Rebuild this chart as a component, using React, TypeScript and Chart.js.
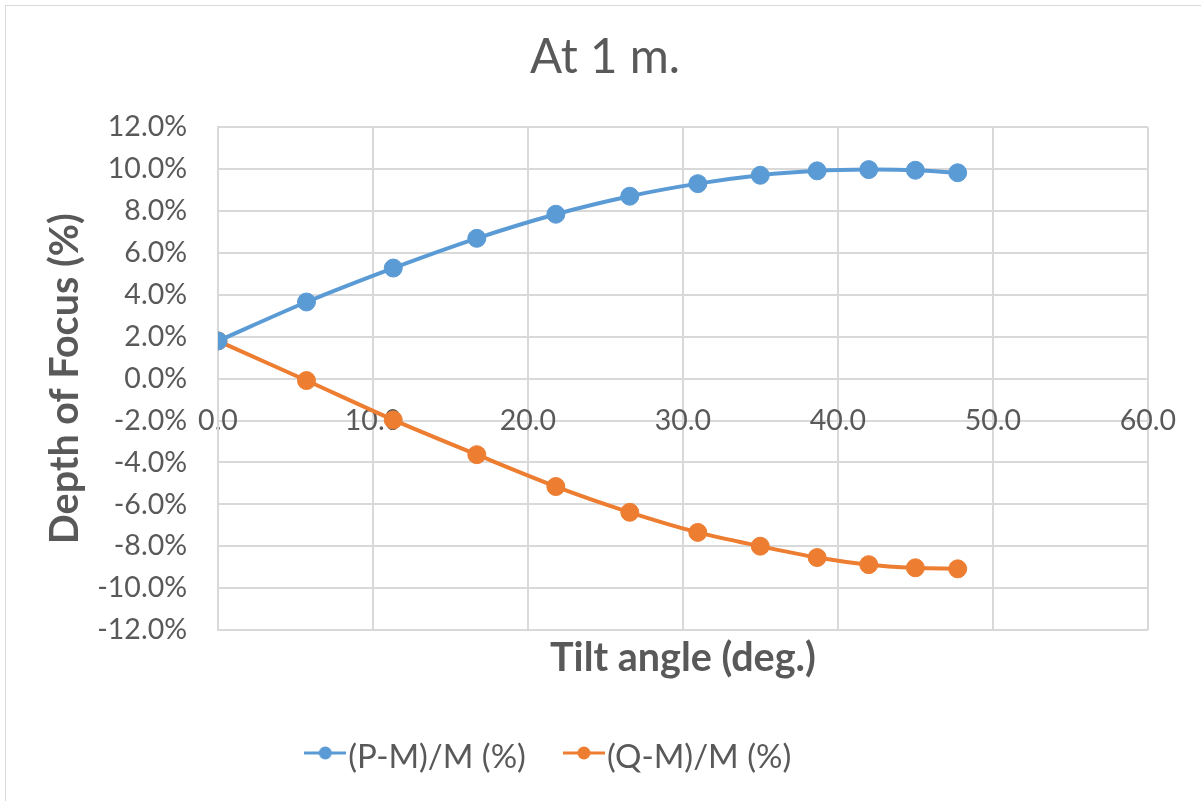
import React, { useEffect, useRef } from 'react';
import { Chart, registerables } from 'chart.js';

Chart.register(...registerables);

// ---- data ----
const chartTitle = 'At 1 m.';
const xAxisTitle = 'Tilt angle (deg.)';
const yAxisTitle = 'Depth of Focus (%)';

const tiltAngles = [0, 5.71, 11.31, 16.7, 21.8, 26.57, 30.96, 34.99, 38.66, 41.99, 45.0, 47.73];
const pmValues = [1.8, 3.66, 5.28, 6.7, 7.85, 8.71, 9.31, 9.71, 9.92, 9.98, 9.95, 9.83];
const qmValues = [1.8, -0.09, -1.97, -3.63, -5.15, -6.38, -7.34, -8.0, -8.54, -8.88, -9.03, -9.08];

const seriesNames = ['(P-M)/M (%)', '(Q-M)/M (%)'];
const seriesValues = [pmValues, qmValues];
const seriesColors = ['#5B9BD5', '#ED7D31'];

const xMin = 0;
const xMax = 60;
const xStep = 10;
const yMin = -12;
const yMax = 12;
const yStep = 2;

// ---- style ----
const TEXT = '#595959';
const GRID = '#d9d9d9';

function makeGlyph(color: string) {
  const c = document.createElement('canvas');
  c.width = 42;
  c.height = 24;
  const g = c.getContext('2d')!;
  g.strokeStyle = color;
  g.lineWidth = 3;
  g.beginPath();
  g.moveTo(0, 8);
  g.lineTo(42, 8);
  g.stroke();
  g.fillStyle = color;
  g.beginPath();
  g.arc(21, 8, 6.5, 0, Math.PI * 2);
  g.fill();
  return c;
}

// Excel-style placement: title centred on the whole frame, legend slightly left.
const boxShift = {
  id: 'boxShift',
  afterLayout(chart: any) {
    const l = chart.legend;
    if (l) {
      l.left -= 19;
      l.right -= 19;
    }
    const t = chart.titleBlock;
    if (t) {
      t.left += 31;
      t.right += 31;
    }
  },
};

export default function App() {
  const ref = useRef<HTMLCanvasElement>(null);

  useEffect(() => {
    const canvas = ref.current;
    if (!canvas) return;
    Chart.defaults.font.family = 'Lato';
    const glyphs = seriesColors.map(makeGlyph);

    const chart = new Chart(canvas, {
      type: 'line',
      data: {
        datasets: seriesNames.map((name, i) => ({
          label: name,
          data: tiltAngles.map((x, j) => ({ x, y: seriesValues[i][j] })),
          borderColor: seriesColors[i],
          backgroundColor: seriesColors[i],
          borderWidth: 4,
          pointRadius: 9,
          pointHoverRadius: 9,
          pointBorderWidth: 1,
          pointStyle: 'circle',
          tension: 0.3,
          fill: false,
        })),
      },
      options: {
        responsive: false,
        animation: false,
        devicePixelRatio: 1,
        layout: { padding: { left: 0, right: 53, top: 0, bottom: 17.5 } },
        plugins: {
          title: {
            display: true,
            text: chartTitle,
            color: TEXT,
            font: { family: 'Lato', size: 47.5, weight: 'normal' },
            padding: { top: 29, bottom: 41.3 },
          },
          legend: {
            display: true,
            position: 'bottom',
            labels: {
              usePointStyle: true,
              pointStyleWidth: 13,
              padding: 51.5,
              color: TEXT,
              font: { family: 'Lato', size: 33 },
              generateLabels: (ch: any) =>
                (Chart.defaults.plugins.legend.labels as any)
                  .generateLabels(ch)
                  .map((it: any, i: number) => ({ ...it, pointStyle: glyphs[i] })),
            },
          },
          tooltip: { enabled: false },
        },
        scales: {
          x: {
            type: 'linear',
            position: { y: 0 },
            min: xMin,
            max: xMax,
            ticks: {
              stepSize: xStep,
              padding: 25,
              color: TEXT,
              font: { family: 'Lato', size: 28.5 },
              callback: (v: any) => Number(v).toFixed(1),
            },
            grid: { color: GRID, lineWidth: 2, drawTicks: false },
            border: { color: GRID, width: 2 },
          },
          xTitle: {
            type: 'linear',
            position: 'bottom',
            min: xMin,
            max: xMax,
            ticks: { display: false },
            grid: { display: false, drawTicks: false },
            border: { display: false },
            title: {
              display: true,
              text: xAxisTitle,
              color: TEXT,
              font: { family: 'Lato', size: 39.5, weight: 'bold' },
              padding: { top: 4.3, bottom: 7.3 },
            },
          },
          y: {
            type: 'linear',
            position: 'left',
            min: yMin,
            max: yMax,
            ticks: {
              stepSize: yStep,
              padding: 31,
              color: TEXT,
              font: { family: 'Lato', size: 28.5 },
              callback: (v: any) => Number(v).toFixed(1) + '%',
            },
            grid: { color: GRID, lineWidth: 2, drawTicks: false },
            border: { color: GRID, width: 2 },
            title: {
              display: true,
              text: yAxisTitle,
              color: TEXT,
              font: { family: 'Lato', size: 39.5, weight: 'bold' },
              padding: { top: 41.3, bottom: 0 },
            },
            afterFit: (s: any) => {
              s.width = 218;
            },
          },
        },
      } as any,
      plugins: [boxShift],
    });
    return () => chart.destroy();
  }, []);

  return (
    <div style={{ position: 'fixed', left: 0, top: 0, width: 1201, height: 801, background: '#fff' }}>
      <canvas ref={ref} width={1201} height={801} style={{ position: 'absolute', left: 0, top: 0, width: 1201, height: 801 }} />
      <div
        style={{
          position: 'absolute',
          left: 5,
          top: 5,
          width: 1196,
          height: 796,
          borderLeft: '1.5px solid #d9d9d9',
          borderTop: '1.5px solid #d9d9d9',
          boxSizing: 'border-box',
          pointerEvents: 'none',
        }}
      />
    </div>
  );
}
